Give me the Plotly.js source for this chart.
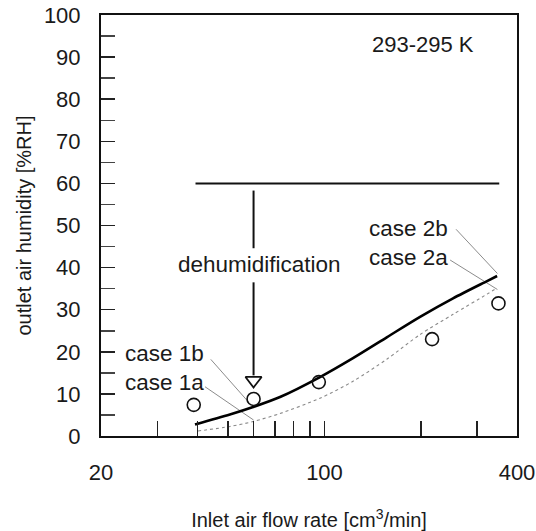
<!DOCTYPE html>
<html>
<head>
<meta charset="utf-8">
<script src="https://cdn.plot.ly/plotly-3.0.1.min.js"></script>
<style>html,body{margin:0;padding:0;background:#fff;}#chart{width:536px;height:531px;}</style>
</head>
<body>
<div id="chart"></div>
<script>
// Measured points (open circles)
const measX = [39, 60, 96, 217, 350];
const measY = [7.4, 8.8, 12.8, 23.0, 31.5];

// Case b (solid curve)
const caseBX = [39.35, 50.6, 59.8, 72.6, 96.8, 122.8, 157.0, 199.0, 252.4, 322.4, 346.6];
const caseBY = [2.73, 5.11, 6.89, 9.26, 14.0, 18.5, 23.5, 28.3, 32.7, 36.8, 38.0];

// Case a (dotted curve)
const caseAX = [40.2, 50.6, 59.8, 72.6, 96.8, 122.8, 157.0, 199.0, 252.4, 322.4, 346.6];
const caseAY = [1.19, 2.26, 3.44, 5.34, 8.98, 13.0, 18.3, 24.1, 28.9, 33.7, 35.15];

// Inlet humidity level
const inletX = [39.5, 352];
const inletY = [60, 60];

// Dehumidification arrow
const arrowX = [60, 60, null, 60, 60];
const arrowY = [58.3, 44.6, null, 36.5, 14.4];
const arrowHeadX = [60];
const arrowHeadY = [13.2];

// Leader lines for case labels
const leaderX = [44.1, 57.8, null, 42.3, 60, null, 257.9, 347.4, null, 247.1, 347.4];
const leaderY = [18.2, 8.1, null, 11.7, 3.8, null, 49.1, 38.6, null, 41.8, 34.8];

// Axis ticks
const xTickVals = [20, 100, 400];
const xTickText = ['20', '100', '400'];
const xMinorVals = [30, 40, 50, 60, 70, 80, 90, 200, 300];
const yTickVals = [0, 10, 20, 30, 40, 50, 60, 70, 80, 90, 100];
const yTickText = ['0', '10', '20', '30', '40', '50', '60', '70', '80', '90', '100'];
const yMinorVals = [5, 15, 25, 35, 45, 55, 65, 75, 85, 95];

const FONT = 'Liberation Sans, Arial, sans-serif';
const TXT = '#1a1a1a';

const traces = [
  {x: leaderX, y: leaderY, mode: 'lines', line: {color: '#8c8c8c', width: 1}, hoverinfo: 'skip', showlegend: false},
  {x: caseAX, y: caseAY, mode: 'lines', line: {color: '#8a8a8a', width: 1.1, dash: 'dot', shape: 'spline', smoothing: 0.8}, showlegend: false, name: 'case a'},
  {x: caseBX, y: caseBY, mode: 'lines', line: {color: '#000', width: 2.6, shape: 'spline', smoothing: 0.8}, showlegend: false, name: 'case b'},
  {x: inletX, y: inletY, mode: 'lines', line: {color: '#111', width: 2}, showlegend: false},
  {x: arrowX, y: arrowY, mode: 'lines', line: {color: '#111', width: 2}, showlegend: false},
  {x: arrowHeadX, y: arrowHeadY, mode: 'markers', marker: {symbol: 'triangle-down-open', size: 14, color: '#111', line: {width: 1.8, color: '#111'}}, showlegend: false},
  {x: measX, y: measY, mode: 'markers', marker: {symbol: 'circle-open', size: 13, color: '#111', line: {width: 1.6, color: '#111'}}, showlegend: false, name: 'measured'}
];

const layout = {
  width: 536, height: 531,
  margin: {l: 101, r: 19, t: 15, b: 95},
  paper_bgcolor: '#fff', plot_bgcolor: '#fff',
  font: {family: FONT, size: 22, color: TXT},
  showlegend: false,
  xaxis: {
    type: 'log', range: [Math.log10(20), Math.log10(400)],
    tickmode: 'array', tickvals: xTickVals, ticktext: xTickText,
    ticks: 'inside', ticklen: 15, tickwidth: 1.5, tickcolor: '#222',
    minor: {tickmode: 'array', tickvals: xMinorVals, ticks: 'inside', ticklen: 15, tickwidth: 1.5, tickcolor: '#222', showgrid: false},
    showline: true, linecolor: '#111', linewidth: 2, mirror: true,
    showgrid: false, zeroline: false,
    ticklabelstandoff: 16,
    tickfont: {family: FONT, size: 22, color: TXT},
    title: {text: 'Inlet air flow rate [cm<sup>3</sup>/min]', font: {family: FONT, size: 20, color: TXT}, standoff: 31}
  },
  yaxis: {
    range: [0, 100],
    tickmode: 'array', tickvals: yTickVals, ticktext: yTickText,
    ticks: 'inside', ticklen: 14, tickwidth: 1.5, tickcolor: '#222',
    minor: {tickmode: 'array', tickvals: yMinorVals, ticks: 'inside', ticklen: 14, tickwidth: 1.5, tickcolor: '#444', showgrid: false},
    showline: true, linecolor: '#111', linewidth: 2, mirror: true,
    showgrid: false, zeroline: false,
    ticklabelstandoff: 14,
    tickfont: {family: FONT, size: 22, color: TXT},
    title: {text: 'outlet air humidity [%RH]', font: {family: FONT, size: 20, color: TXT}, standoff: 7}
  },
  annotations: [
    {xref: 'paper', yref: 'paper', x: 0.775, y: 0.93, text: '293-295 K', showarrow: false, xanchor: 'center', yanchor: 'middle', font: {size: 22}},
    {xref: 'paper', yref: 'paper', x: 0.3815, y: 0.4085, text: 'dehumidification', showarrow: false, xanchor: 'center', yanchor: 'middle', font: {size: 22.5}},
    {xref: 'paper', yref: 'paper', x: 0.740, y: 0.493, text: 'case 2b', showarrow: false, xanchor: 'center', yanchor: 'middle', font: {size: 22.5}},
    {xref: 'paper', yref: 'paper', x: 0.740, y: 0.4245, text: 'case 2a', showarrow: false, xanchor: 'center', yanchor: 'middle', font: {size: 22.5}},
    {xref: 'paper', yref: 'paper', x: 0.152, y: 0.196, text: 'case 1b', showarrow: false, xanchor: 'center', yanchor: 'middle', font: {size: 22.5}},
    {xref: 'paper', yref: 'paper', x: 0.152, y: 0.1267, text: 'case 1a', showarrow: false, xanchor: 'center', yanchor: 'middle', font: {size: 22.5}}
  ]
};

Plotly.newPlot('chart', traces, layout, {staticPlot: true, displayModeBar: false});
</script>
</body>
</html>
